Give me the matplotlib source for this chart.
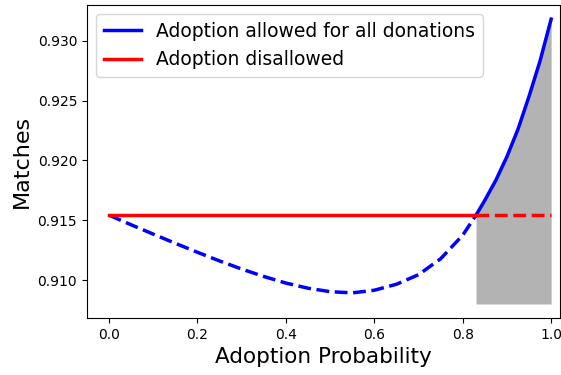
import numpy as np
import matplotlib
matplotlib.use("Agg")
import matplotlib.pyplot as plt

# adoption probability grid and matches
adopt_prob = [0.00, 0.05, 0.10, 0.15, 0.20, 0.25, 0.30, 0.35, 0.40, 0.45, 0.50,
              0.55, 0.60, 0.65, 0.70, 0.75, 0.80, 0.83, 0.85, 0.875, 0.90,
              0.925, 0.95, 0.975, 1.00]
matches_allowed = [0.91542, 0.91462, 0.91384, 0.91307, 0.91232, 0.91160, 0.91092,
                   0.91030, 0.90975, 0.90932, 0.90903, 0.90893, 0.90915, 0.90965,
                   0.91045, 0.91178, 0.91375, 0.91542, 0.91667, 0.91835, 0.92032,
                   0.92261, 0.92536, 0.92833, 0.93181]
matches_disallowed = 0.91542
fill_floor = 0.908
crossing = 0.83

x = np.array(adopt_prob)
y = np.array(matches_allowed)
below = x <= crossing
above = x >= crossing

fig = plt.figure(figsize=(5.61, 3.75), dpi=100)
ax = fig.add_axes([0.155, 0.152, 0.844, 0.835])

ax.plot(x[above], y[above], color="blue", lw=2.5, label="Adoption allowed for all donations")
ax.plot(x[below], y[below], color="blue", lw=2.5, ls="--")
ax.plot([0, crossing], [matches_disallowed] * 2, color="red", lw=2.5, label="Adoption disallowed")
ax.plot([crossing, 1.0], [matches_disallowed] * 2, color="red", lw=2.5, ls="--")
ax.fill_between(x[above], fill_floor, y[above], color="0.7", lw=0, zorder=0)

ax.set_xlim(-0.05, 1.021)
ax.set_ylim(0.90683, 0.933)
ax.set_xticks([0.0, 0.2, 0.4, 0.6, 0.8, 1.0])
ax.set_yticks([0.910, 0.915, 0.920, 0.925, 0.930])
ax.set_yticklabels(["0.910", "0.915", "0.920", "0.925", "0.930"])
ax.tick_params(labelsize=10)
ax.set_xlabel("Adoption Probability", fontsize=15.5)
ax.set_ylabel("Matches", fontsize=16)
ax.legend(loc="upper left", fontsize=13.5)

fig.savefig("out.png", dpi=100)
